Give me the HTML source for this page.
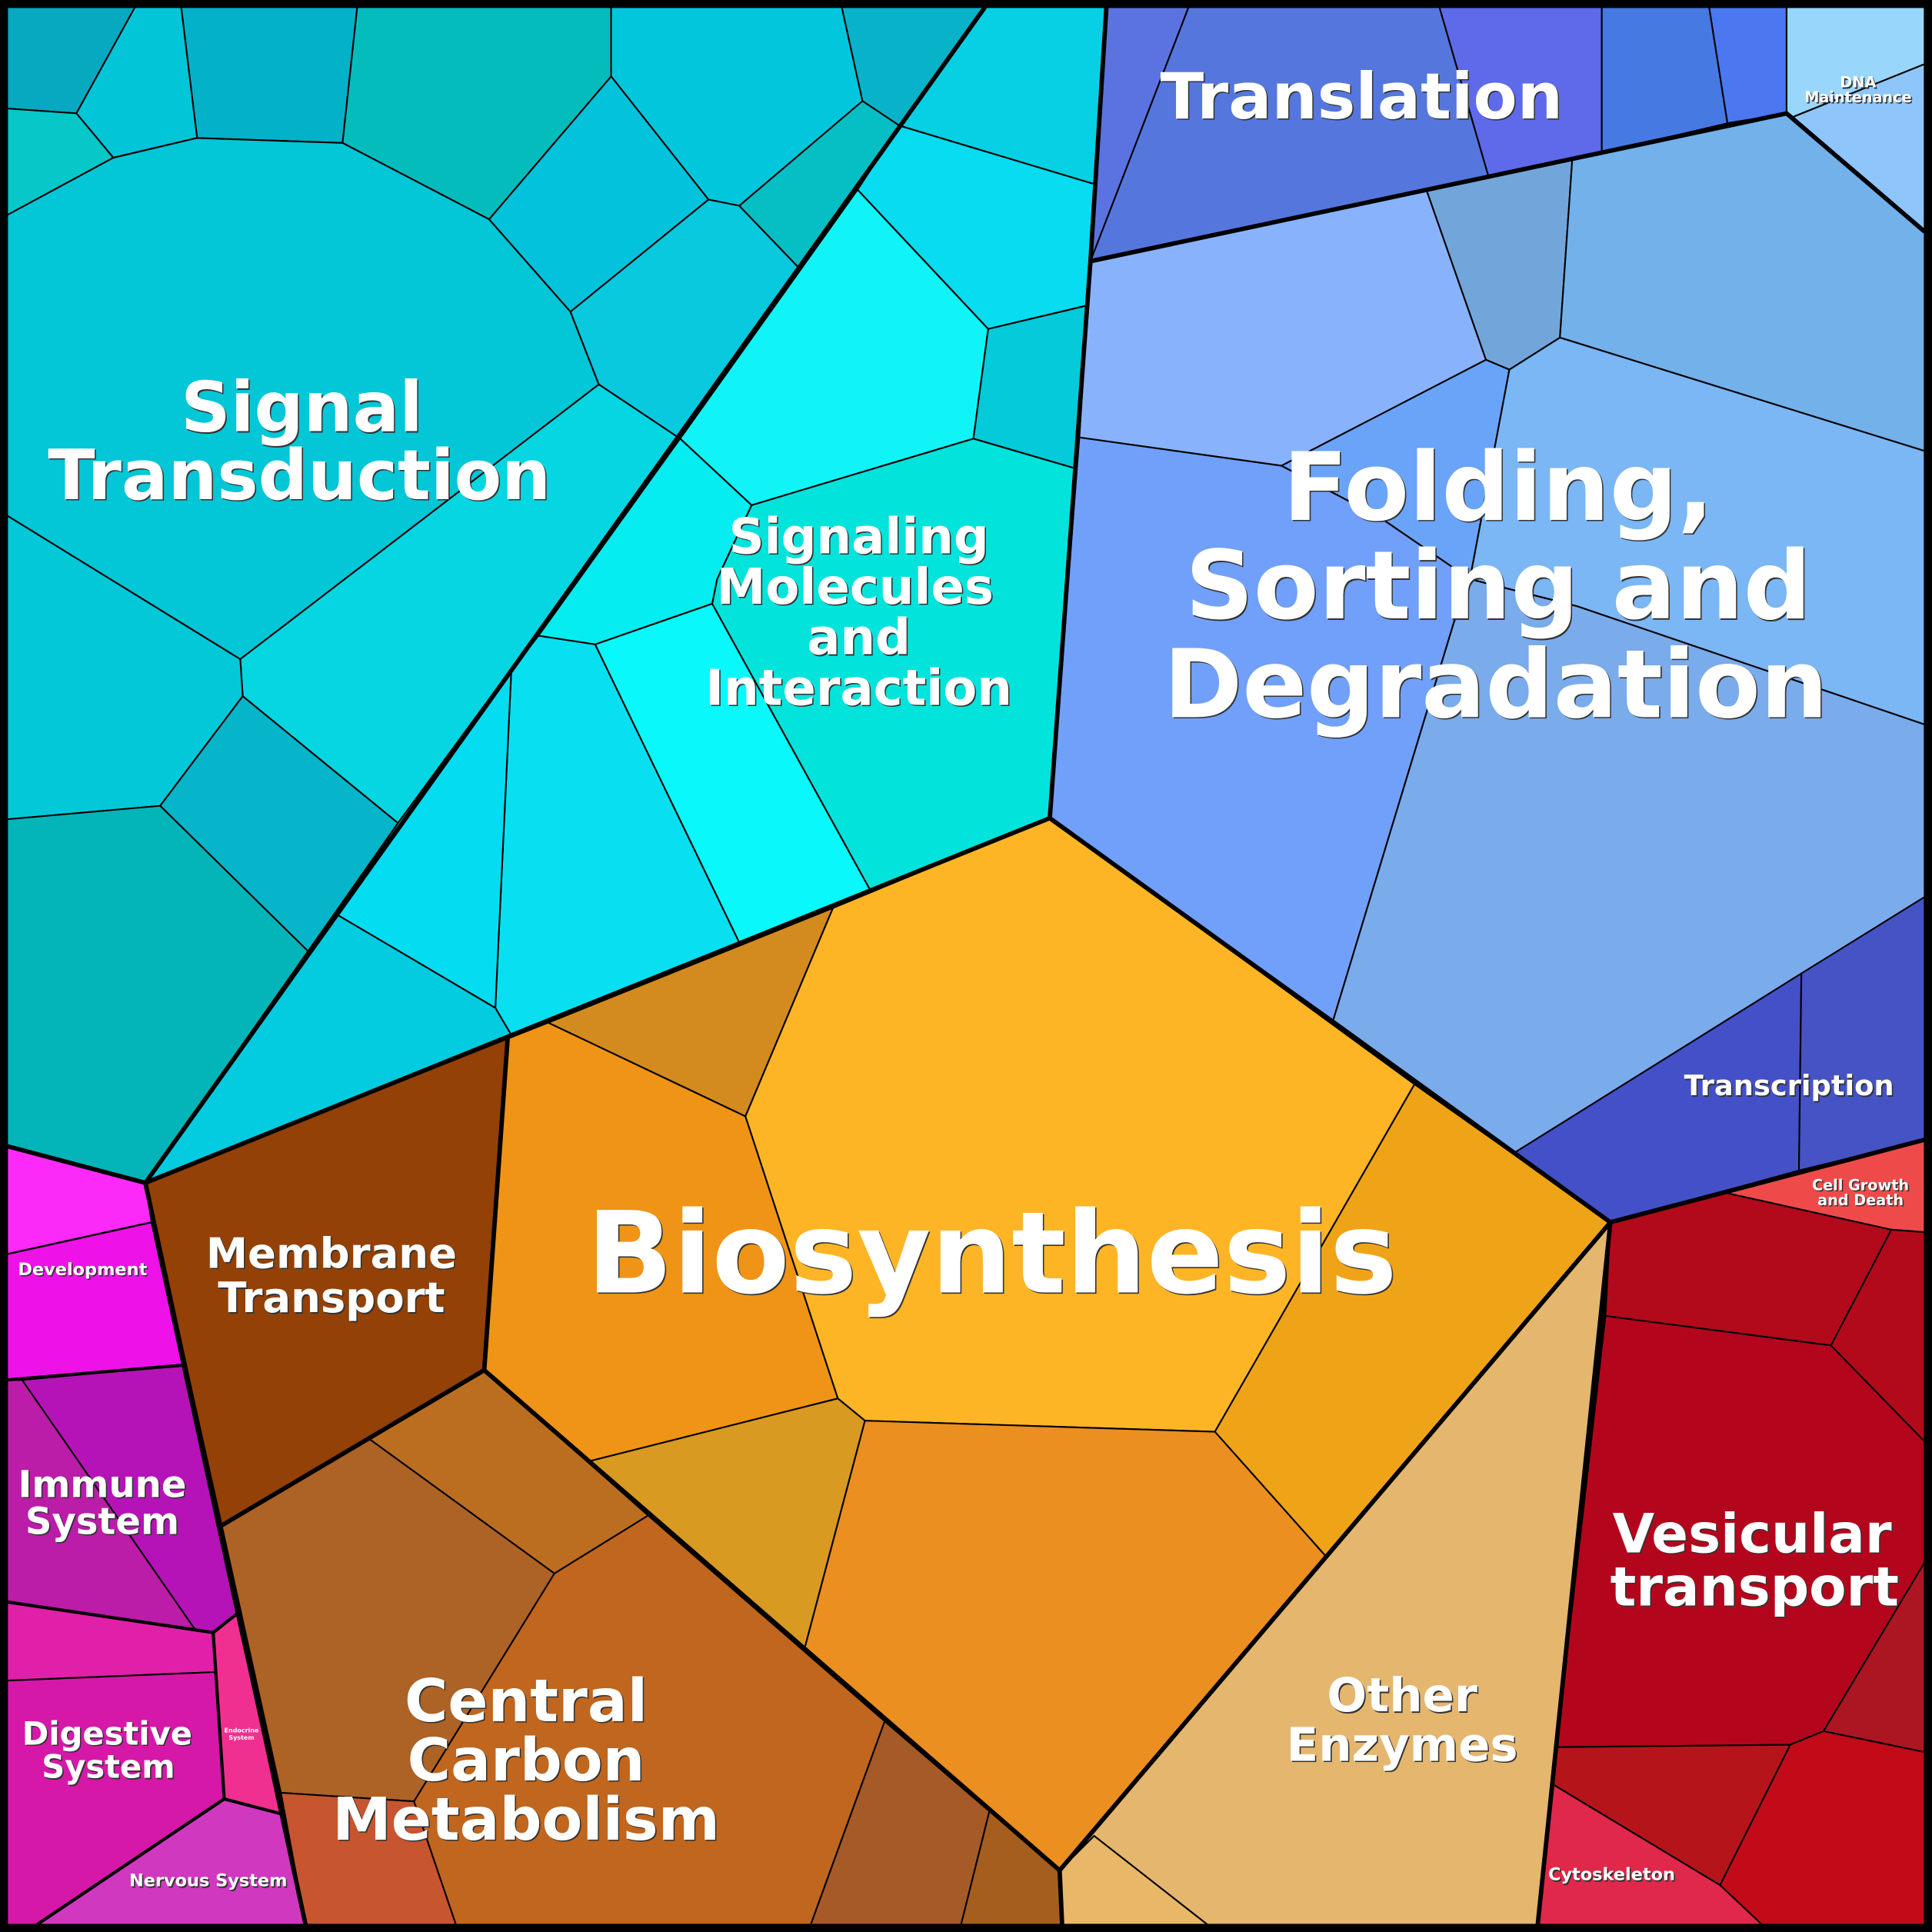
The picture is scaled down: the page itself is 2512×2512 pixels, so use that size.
<!DOCTYPE html>
<html><head><meta charset="utf-8"><style>html,body{margin:0;padding:0;background:#000}svg{display:block}
text{font-family:"DejaVu Sans","Liberation Sans",sans-serif;font-weight:bold;text-anchor:middle}
.s{fill:#333}.w{fill:#fff}</style></head><body>
<svg width="2512" height="2512" viewBox="0 0 1568 1568" xmlns="http://www.w3.org/2000/svg">
<rect width="1568" height="1568" fill="#000"/>
<g stroke="#000" stroke-width="1.3" stroke-linejoin="round">
<polygon fill="#07a9c0" points="5,5 110,5 62,92 5,88"/>
<polygon fill="#03c5d8" points="110,5 147,5 160,112 92,128 62,92"/>
<polygon fill="#03b2c9" points="147,5 290,5 278,116 160,112"/>
<polygon fill="#05bcbd" points="290,5 496,5 496,62 397,178 278,116"/>
<polygon fill="#02c7dc" points="496,5 683,5 700,82 600,167 575,162 496,62"/>
<polygon fill="#08b3c9" points="683,5 800,5 730,102 700,82"/>
<polygon fill="#07c7c9" points="5,88 62,92 92,128 5,175"/>
<polygon fill="#03c6d6" points="5,175 92,128 160,112 278,116 397,178 463,253 486,312 195,535 5,418"/>
<polygon fill="#03c3dc" points="397,178 496,62 575,162 463,253"/>
<polygon fill="#09c9df" points="463,253 575,162 600,167 648,217 552,356 486,312"/>
<polygon fill="#06bfc5" points="600,167 700,82 730,102 648,217"/>
<polygon fill="#06d6e2" points="486,312 552,356 323,668 197,565 195,535"/>
<polygon fill="#03c8d8" points="5,418 195,535 197,565 130,654 5,665"/>
<polygon fill="#06b5c9" points="130,654 197,565 323,668 250,772"/>
<polygon fill="#03b5b8" points="5,665 130,654 250,772 118,960 5,930"/>
<polygon fill="#07d0e4" points="730,102 800,5 898,5 890,150"/>
<polygon fill="#07dcf0" points="696,154 730,102 890,150 882,248 802,267"/>
<polygon fill="#10f4f8" points="552,356 696,154 802,267 790,356 610,410"/>
<polygon fill="#04cad9" points="802,267 882,248 872,380 790,356"/>
<polygon fill="#02e3dc" points="610,410 790,356 872,380 852,664 706,722 578,490 582,470"/>
<polygon fill="#05ecf1" points="437,516 552,356 610,410 582,470 578,490 483,523"/>
<polygon fill="#08f8fc" points="483,523 578,490 706,722 600,765"/>
<polygon fill="#08e0f2" points="437,516 483,523 600,765 415,840 402,818 415,544"/>
<polygon fill="#04dcf2" points="323,668 415,544 402,818 273,742"/>
<polygon fill="#03cbe0" points="250,772 273,742 402,818 415,840 118,960"/>
<polygon fill="#5a73e0" points="898,5 965,5 885,212"/>
<polygon fill="#5577dd" points="965,5 1168,5 1208,143 1158,155 885,212"/>
<polygon fill="#5e6aea" points="1168,5 1300,5 1300,124 1208,143"/>
<polygon fill="#4779e2" points="1300,5 1387,5 1402,100 1300,124"/>
<polygon fill="#4b77f0" points="1387,5 1450,5 1450,92 1402,100"/>
<polygon fill="#99d6fb" points="1450,5 1562,5 1562,52 1450,97"/>
<polygon fill="#8ec6fb" points="1450,97 1562,52 1562,188 1450,92"/>
<polygon fill="#89b2fc" points="885,212 1158,155 1206,292 1040,378 876,355"/>
<polygon fill="#72a6da" points="1158,155 1276,130 1266,274 1225,300 1206,292"/>
<polygon fill="#72b1ea" points="1276,130 1450,92 1562,188 1562,366 1266,274"/>
<polygon fill="#6aa4f8" points="1040,378 1206,292 1225,300 1193,470 1120,420"/>
<polygon fill="#7bb6f5" points="1225,300 1266,274 1562,366 1562,588 1280,492 1193,470"/>
<polygon fill="#71a0fb" points="876,355 1040,378 1120,420 1193,470 1180,505 1082,828 852,664"/>
<polygon fill="#7aabeb" points="1193,470 1280,492 1562,588 1562,728 1230,935 1082,828 1180,505"/>
<polygon fill="#4450c8" points="1230,935 1462,790 1460,950 1307,992"/>
<polygon fill="#4553c4" points="1462,790 1562,728 1562,925 1460,950"/>
<polygon fill="#ef4a4a" points="1400,968 1562,925 1562,1000 1535,998"/>
<polygon fill="#b20a1a" points="1307,992 1400,968 1535,998 1486,1092 1303,1068"/>
<polygon fill="#b30a1b" points="1535,998 1562,1000 1562,1170 1486,1092"/>
<polygon fill="#b3061c" points="1303,1068 1486,1092 1562,1170 1562,1268 1480,1405 1453,1416 1263,1418"/>
<polygon fill="#ac1622" points="1480,1405 1562,1268 1562,1422"/>
<polygon fill="#b5141a" points="1263,1418 1453,1416 1396,1530 1260,1448"/>
<polygon fill="#c20a18" points="1453,1416 1480,1405 1562,1422 1562,1562 1430,1562 1396,1530"/>
<polygon fill="#e0284a" points="1260,1448 1396,1530 1430,1562 1248,1562"/>
<polygon fill="#e4b66e" points="1307,992 1248,1562 980,1562 888,1490 860,1518"/>
<polygon fill="#e8b868" points="860,1518 888,1490 980,1562 862,1562"/>
<polygon fill="#ef9416" points="412,843 445,830 605,906 680,1135 478,1186 393,1112"/>
<polygon fill="#d38a1f" points="445,830 676,737 605,906"/>
<polygon fill="#fdb526" points="676,737 852,664 1148,880 986,1162 702,1153 680,1135 605,906"/>
<polygon fill="#efa418" points="1148,880 1307,992 1076,1263 986,1162"/>
<polygon fill="#d99a22" points="478,1186 680,1135 702,1153 653,1338"/>
<polygon fill="#ea8f20" points="702,1153 986,1162 1076,1263 860,1518 653,1338"/>
<polygon fill="#934106" points="118,960 412,843 393,1112 180,1238"/>
<polygon fill="#ad6226" points="180,1238 300,1168 450,1277 336,1462 228,1455"/>
<polygon fill="#bc6e20" points="300,1168 393,1112 526,1230 450,1277"/>
<polygon fill="#c1661e" points="450,1277 526,1230 718,1397 658,1562 370,1562 336,1462"/>
<polygon fill="#c75530" points="228,1455 336,1462 370,1562 248,1562"/>
<polygon fill="#a55a28" points="718,1397 803,1470 780,1562 658,1562"/>
<polygon fill="#a55e1e" points="803,1470 860,1518 862,1562 780,1562"/>
<polygon fill="#fb2af8" points="5,930 118,960 123,992 5,1018"/>
<polygon fill="#ee12e8" points="5,1018 123,992 148,1108 5,1120"/>
<polygon fill="#bb1ca8" points="5,1120 18,1120 158,1322 5,1300"/>
<polygon fill="#b513b8" points="18,1120 148,1108 192,1310 173,1325 158,1322"/>
<polygon fill="#e020a8" points="5,1300 173,1325 176,1357 5,1364"/>
<polygon fill="#d618a8" points="5,1364 176,1357 182,1460 30,1562 5,1562"/>
<polygon fill="#f03090" points="173,1325 192,1310 228,1472 182,1460"/>
<polygon fill="#d038c0" points="182,1460 228,1472 248,1562 30,1562"/>
</g>
<g fill="none" stroke="#000" stroke-width="3.6" stroke-linejoin="round">
<polyline points="800,5 118,960 5,930"/>
<polyline points="898,5 885,212 852,664 118,960"/>
<polyline points="885,212 1450,92 1562,188"/>
<polyline points="852,664 1307,992 1562,925"/>
<polyline points="412,843 393,1112 860,1518 1307,992 1248,1562"/>
<polyline points="118,960 248,1562"/>
<polyline points="393,1112 180,1238"/>
<polyline points="860,1518 862,1562"/>
<g stroke-width="2.6">
<polyline points="5,1120 148,1108"/>
<polyline points="5,1300 173,1325 192,1310"/>
<polyline points="173,1325 182,1460 228,1472"/>
<polyline points="182,1460 30,1562"/>
</g>
<polyline points="5,1018 123,992" stroke-width="1.5"/>
</g>
<rect x="3" y="3" width="1562" height="1562" fill="none" stroke="#000" stroke-width="7"/>
<g>
<g font-size="56"><text class="s" x="246" y="351">Signal</text><text class="w" x="245" y="350">Signal</text>
<text class="s" x="244" y="406">Transduction</text><text class="w" x="243" y="405">Transduction</text></g>
<g font-size="40"><text class="s" x="698" y="450">Signaling</text><text class="w" x="697" y="449">Signaling</text>
<text class="s" x="695" y="491">Molecules</text><text class="w" x="694" y="490">Molecules</text>
<text class="s" x="698" y="532">and</text><text class="w" x="697" y="531">and</text>
<text class="s" x="698" y="573">Interaction</text><text class="w" x="697" y="572">Interaction</text></g>
<g font-size="52"><text class="s" x="1106" y="97">Translation</text><text class="w" x="1105" y="96">Translation</text></g>
<g font-size="77"><text class="s" x="1217" y="423">Folding,</text><text class="w" x="1216" y="422">Folding,</text>
<text class="s" x="1217" y="503">Sorting and</text><text class="w" x="1216" y="502">Sorting and</text>
<text class="s" x="1215" y="583">Degradation</text><text class="w" x="1214" y="582">Degradation</text></g>
<g font-size="92"><text class="s" x="806" y="1050">Biosynthesis</text><text class="w" x="805" y="1049">Biosynthesis</text></g>
<g font-size="34"><text class="s" x="270" y="1030">Membrane</text><text class="w" x="269" y="1029">Membrane</text>
<text class="s" x="270" y="1066">Transport</text><text class="w" x="269" y="1065">Transport</text></g>
<g font-size="48"><text class="s" x="428" y="1398">Central</text><text class="w" x="427" y="1397">Central</text>
<text class="s" x="428" y="1446">Carbon</text><text class="w" x="427" y="1445">Carbon</text>
<text class="s" x="428" y="1494">Metabolism</text><text class="w" x="427" y="1493">Metabolism</text></g>
<g font-size="38"><text class="s" x="1139" y="1390">Other</text><text class="w" x="1138" y="1389">Other</text>
<text class="s" x="1139" y="1430">Enzymes</text><text class="w" x="1138" y="1429">Enzymes</text></g>
<g font-size="44"><text class="s" x="1423" y="1261">Vesicular</text><text class="w" x="1422" y="1260">Vesicular</text>
<text class="s" x="1425" y="1304">transport</text><text class="w" x="1424" y="1303">transport</text></g>
<g font-size="23"><text class="s" x="1453" y="890">Transcription</text><text class="w" x="1452" y="889">Transcription</text></g>
<g font-size="30"><text class="s" x="84" y="1216">Immune</text><text class="w" x="83" y="1215">Immune</text>
<text class="s" x="84" y="1246">System</text><text class="w" x="83" y="1245">System</text></g>
<g font-size="26"><text class="s" x="88" y="1417">Digestive</text><text class="w" x="87" y="1416">Digestive</text>
<text class="s" x="89" y="1444">System</text><text class="w" x="88" y="1443">System</text></g>
<g font-size="14"><text class="s" x="68" y="1036">Development</text><text class="w" x="67" y="1035">Development</text>
<text class="s" x="170" y="1532">Nervous System</text><text class="w" x="169" y="1531">Nervous System</text>
<text class="s" x="1309" y="1527">Cytoskeleton</text><text class="w" x="1308" y="1526">Cytoskeleton</text></g>
<g font-size="12"><text class="s" x="1511" y="967">Cell Growth</text><text class="w" x="1510" y="966">Cell Growth</text>
<text class="s" x="1511" y="979">and Death</text><text class="w" x="1510" y="978">and Death</text>
<text class="s" x="1509" y="72">DNA</text><text class="w" x="1508" y="71">DNA</text>
<text class="s" x="1509" y="84">Maintenance</text><text class="w" x="1508" y="83">Maintenance</text></g>
<g font-size="5"><text class="w" x="196" y="1406">Endocrine</text><text class="w" x="196" y="1412">System</text></g>
</g>
</svg>
</body></html>
